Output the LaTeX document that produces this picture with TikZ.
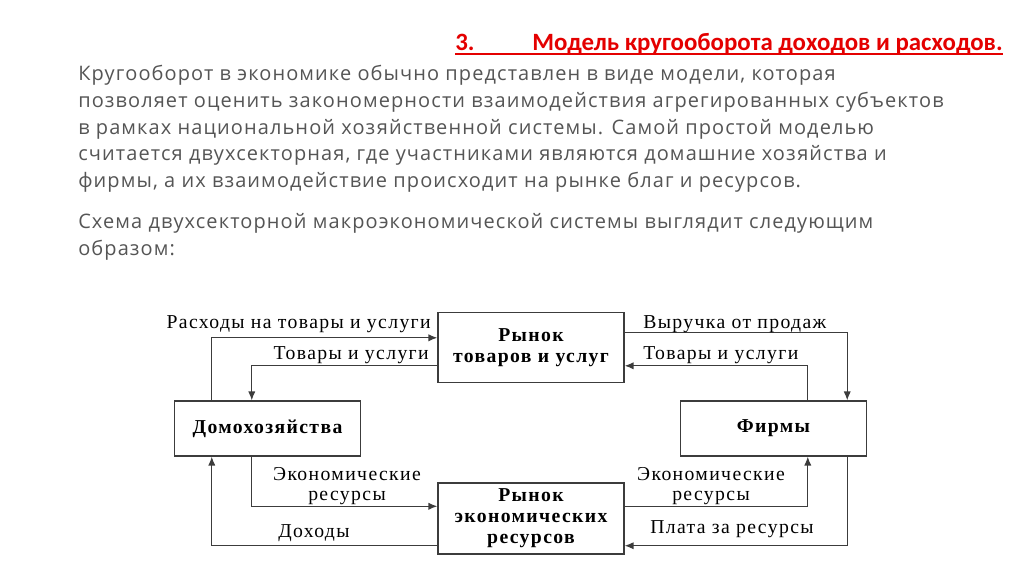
\documentclass[tikz,border=0pt]{standalone}
\usepackage{fontspec}
\setmainfont{Liberation Serif}
\newfontfamily\diafont[LetterSpace=7]{Liberation Serif}
\newfontfamily\ttlfont{Carlito}
\newfontfamily\parafont[LetterSpace=5.5]{Open Sans}
\usetikzlibrary{arrows.meta,positioning,calc}
\definecolor{TitleRed} {RGB}{228,  0,  0}
\definecolor{TextGray} {RGB}{ 85, 85, 85}
\definecolor{LineGray} {RGB}{ 60, 60, 60}
\tikzset{
  %% блоки схемы
  mbox/.style={rectangle,draw=LineGray,line width=1pt,fill=white,
               minimum width=4.65cm,inner sep=0pt,align=center,
               font=\diafont\fontsize{14}{15}\selectfont\bfseries},
  %% подписи потоков
  flbl/.style={inner sep=0pt,align=center,
               font=\diafont\fontsize{14}{14.2}\selectfont},
  %% текст абзацев
  ptext/.style={anchor=base west,inner sep=0pt,align=left,text=TextGray,
                font=\parafont\fontsize{14.2}{19}\selectfont},
  %% стрелки
  flarr/.style={-{Latex[length=2.2mm,width=1.8mm]},line width=0.8pt,draw=LineGray},
}
\begin{document}
\begin{tikzpicture}[x=0.025cm,y=-0.025cm]
    \useasboundingbox[fill=white] (0,0) rectangle (1024,574);

    %% заголовок
    \node[anchor=base west,inner sep=0pt,text=TitleRed,
          font=\ttlfont\fontsize{17.7}{18}\selectfont\bfseries] (num) at (455,50) {3.};
    \node[anchor=base west,inner sep=0pt,text=TitleRed,
          font=\ttlfont\fontsize{17.7}{18}\selectfont\bfseries] (ttl) at (532,50)
          {Модель кругооборота доходов и расходов.};
    \draw[TitleRed,line width=1.4pt] ($(num.base west)+(0,4)$) -- ($(ttl.base east)+(0,4)$);

    %% текст (якорь -- последняя строка)
    \node[ptext] (para) at (78,187.5)
      {Кругооборот в экономике обычно представлен в виде модели, которая\\
       позволяет оценить закономерности взаимодействия агрегированных субъектов\\
       в рамках национальной хозяйственной системы. Самой простой моделью\\
       считается двухсекторная, где участниками являются домашние хозяйства и\\
       фирмы, а их взаимодействие происходит на рынке благ и ресурсов.};
    \node[ptext] (para2) at (78,255)
      {Схема двухсекторной макроэкономической системы выглядит следующим\\
       образом:};

    %% блоки
    \node[mbox,minimum height=1.75cm]  (GM) at (531,347.5) {Рынок\\товаров и услуг};
    \node[mbox,minimum height=1.775cm] (RM) at (531,518.5) {Рынок\\экономических\\ресурсов};
    \node[mbox,minimum height=1.375cm] (HH) at (267.5,428.5) {Домохозяйства};
    \node[mbox,minimum height=1.375cm] (FM) at (773.5,428.5) {Фирмы};

    %% верхний контур
    \draw[flarr] ($(HH.north west)+(38,0)$) |- ($(GM.north west)+(0,26)$);
    \draw[flarr] ($(GM.north west)+(0,54)$) -| ($(HH.north west)+(78,0)$);
    \draw[flarr] ($(GM.north east)+(0,21)$) -| ($(FM.north east)+(-20,0)$);
    \draw[flarr] ($(FM.north west)+(128,0)$) |- ($(GM.north east)+(0,54)$);

    %% нижний контур
    \draw[flarr] ($(HH.south west)+(78,0)$) |- ($(RM.north west)+(0,24)$);
    \draw[flarr] ($(RM.south west)+(0,-9)$) -| ($(HH.south west)+(38,0)$);
    \draw[flarr] ($(RM.north east)+(0,24)$) -| ($(FM.south west)+(128,0)$);
    \draw[flarr] ($(FM.south east)+(-20,0)$) |- ($(RM.south east)+(0,-9)$);

    %% подписи
    \node[flbl,anchor=base east] (lSpend) at (431,328) {Расходы на товары и услуги};
    \node[flbl,anchor=base east] (lGoodsL) at (429,359) {Товары и услуги};
    \node[flbl,anchor=base west] (lRev) at (643,328) {Выручка от продаж};
    \node[flbl,anchor=base west] (lGoodsR) at (643,359) {Товары и услуги};
    \node[flbl] (lResL) at (347,486) {Экономические\\ресурсы};
    \node[flbl,anchor=base west] (lInc) at (278,537) {Доходы};
    \node[flbl] (lResR) at (711,486) {Экономические\\ресурсы};
    \node[flbl,anchor=base west] (lPay) at (650,533) {Плата за ресурсы};
\end{tikzpicture}
\end{document}
